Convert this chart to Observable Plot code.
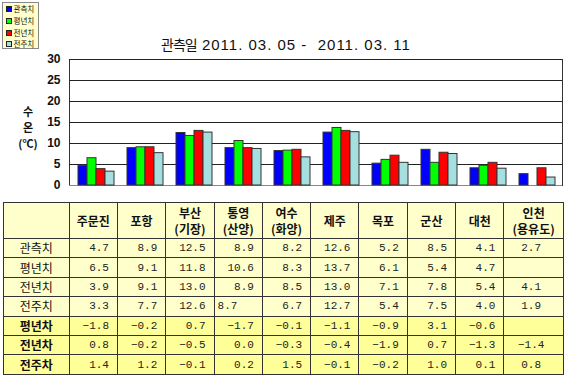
<!DOCTYPE html>
<html><head><meta charset="utf-8">
<script src="https://cdn.jsdelivr.net/npm/d3@7"></script>
<script src="https://cdn.jsdelivr.net/npm/@observablehq/plot@0.6"></script>
<style>
body{margin:0;background:#fff;}
#root{position:relative;width:567px;height:379px;overflow:hidden;font-family:"Noto Sans CJK KR",sans-serif;color:#111;}
.layer{position:absolute;left:0;top:0;}
#legend{position:absolute;left:2px;top:2px;width:37px;height:47px;background:#ffffcc;border:1px solid #888;box-sizing:border-box;font-size:7.5px;line-height:12px;padding-top:0.5px;}
#legend .it{display:flex;align-items:center;height:11.7px;padding-left:3px;}
#legend .sw{width:4px;height:4px;border:1px solid #222;margin-right:1.5px;}
#title{position:absolute;left:0;width:572px;top:35px;text-align:center;font-size:15px;line-height:18px;white-space:pre;font-family:"Liberation Sans","Noto Sans CJK KR",sans-serif;letter-spacing:1px;}
#title .ko{font-family:"Noto Sans CJK KR";font-size:14px;letter-spacing:-1px;}
#ylab{position:absolute;left:13px;width:30px;top:103px;text-align:center;font-size:11px;font-weight:bold;line-height:16px;}
#ylab div{height:16px;}
#tbl{position:absolute;left:3px;top:202px;border-collapse:collapse;table-layout:fixed;width:560px;}
#tbl td{border:1px solid #333;padding:0;font-size:12px;line-height:14px;overflow:hidden;white-space:nowrap;}
#tbl tr.hd td{height:35px;text-align:center;font-weight:bold;background:#ffffcc;}
#tbl tr.hd td div{line-height:16px;height:16px;}
#tbl tr.r td{height:18.4px;}
#tbl tr.up td{background:#ffffcc;}
#tbl tr.lo td{background:#ffff99;}
#tbl td.lab{text-align:center;}
#tbl tr.lo td.lab{font-weight:bold;}
#tbl td.num{font-family:"Liberation Mono",monospace;font-size:11px;text-align:right;padding-right:8px;color:#222;}
#tbl td.num.last{text-align:center;padding-right:5px;}
#tbl td.num.left{text-align:left;padding-left:3px;padding-right:0;}
</style></head><body><div id="root"></div>
<script>
const stations = ["주문진","포항","부산(기장)","통영(산양)","여수(화양)","제주","목포","군산","대천","인천(용유도)"];
const stationLines = [["주문진"],["포항"],["부산","(기장)"],["통영","(산양)"],["여수","(화양)"],["제주"],["목포"],["군산"],["대천"],["인천","(용유도)"]];
const seriesNames = ["관측치","평년치","전년치","전주치"];
const seriesColors = ["#0000ff","#00ff00","#ff0000","#a6dfdf"];
const observed = [4.7,8.9,12.5,8.9,8.2,12.6,5.2,8.5,4.1,2.7];
const normal   = [6.5,9.1,11.8,10.6,8.3,13.7,6.1,5.4,4.7,null];
const lastYear = [3.9,9.1,13.0,8.9,8.5,13.0,7.1,7.8,5.4,4.1];
const lastWeek = [3.3,7.7,12.6,8.7,6.7,12.7,5.4,7.5,4.0,1.9];
const diffNormal = [-1.8,-0.2,0.7,-1.7,-0.1,-1.1,-0.9,3.1,-0.6,null];
const diffYear   = [0.8,-0.2,-0.5,0.0,-0.3,-0.4,-1.9,0.7,-1.3,-1.4];
const diffWeek   = [1.4,1.2,-0.1,0.2,1.5,-0.1,-0.2,1.0,0.1,0.8];
const diffNames = ["평년차","전년차","전주차"];
const yTicks = [0,5,10,15,20,25,30];
const titleKo = "관측일";
const titleRest = " 2011. 03. 05 -  2011. 03. 11";
const yLabelLines = ["수","온","(℃)"];

const seriesValues = [observed, normal, lastYear, lastWeek];
const barData = [];
stations.forEach((s,i)=>seriesNames.forEach((n,j)=>{
  const v = seriesValues[j][i];
  if (v != null) barData.push({station:s, series:n, value:v});
}));

const root = document.getElementById("root");
const W=567, H=195, mL=69, mR=5, mT=59, mB=10;

const base = Plot.plot({
  width:W, height:H, marginLeft:mL, marginRight:mR, marginTop:mT, marginBottom:mB,
  x:{domain:stations, axis:null},
  y:{domain:[0,30], axis:null},
  style:{background:"transparent", overflow:"visible"},
  marks:[
    Plot.frame({stroke:"#333"}),
    Plot.ruleY(yTicks.slice(1), {stroke:"#222"}),
    Plot.ruleY([0], {stroke:"#888"}),
    Plot.axisY({ticks:yTicks, tickSize:0, tickPadding:9, fontSize:12, fontWeight:"bold", fontFamily:"Liberation Sans", fill:"#111", label:null})
  ]
});
base.classList.add("layer");
root.appendChild(base);

const bars = Plot.plot({
  width:W, height:H, marginLeft:mL, marginRight:mR, marginTop:mT, marginBottom:mB,
  fx:{domain:stations, paddingInner:0.25, paddingOuter:0.125, axis:null, label:null},
  x:{domain:seriesNames, padding:0, axis:null},
  y:{domain:[0,30], axis:null},
  color:{domain:seriesNames, range:seriesColors},
  style:{background:"transparent", overflow:"visible"},
  marks:[
    Plot.barY(barData, {fx:"station", x:"series", y:"value", fill:"series", stroke:"#333", strokeWidth:1})
  ]
});
bars.classList.add("layer");
root.appendChild(bars);

// legend
const lg = d3.select(root).append("div").attr("id","legend");
seriesNames.forEach((n,j)=>{
  const it = lg.append("div").attr("class","it");
  it.append("div").attr("class","sw").style("background", seriesColors[j]);
  it.append("span").text(n);
});

// title
const t = d3.select(root).append("div").attr("id","title");
t.append("span").attr("class","ko").text(titleKo);
t.append("span").text(titleRest);

// y label
const yl = d3.select(root).append("div").attr("id","ylab");
yLabelLines.forEach(l=>yl.append("div").text(l));

// table
const tbl = d3.select(root).append("table").attr("id","tbl");
const cg = tbl.append("colgroup");
cg.append("col").style("width","65.7px");
for (let i=0;i<9;i++) cg.append("col").style("width","48.3px");
cg.append("col").style("width","59.6px");
const hd = tbl.append("tr").attr("class","hd");
hd.append("td");
stationLines.forEach(ls=>{
  const td = hd.append("td");
  ls.forEach(l=>td.append("div").text(l));
});
const fmt = v => v==null ? "" : (v<0 ? "−"+Math.abs(v).toFixed(1) : v.toFixed(1));
const rows = [
  ...seriesNames.map((n,j)=>({name:n, vals:seriesValues[j], cls:"up"})),
  {name:diffNames[0], vals:diffNormal, cls:"lo"},
  {name:diffNames[1], vals:diffYear, cls:"lo"},
  {name:diffNames[2], vals:diffWeek, cls:"lo"}
];
rows.forEach((r,ri)=>{
  const tr = tbl.append("tr").attr("class","r "+r.cls);
  tr.append("td").attr("class","lab").text(r.name);
  r.vals.forEach((v,i)=>{
    let c = "num";
    if (i===stations.length-1) c += " last";
    if (ri===3 && i===3) c += " left";
    tr.append("td").attr("class",c).text(fmt(v));
  });
});
</script>
</body></html>
